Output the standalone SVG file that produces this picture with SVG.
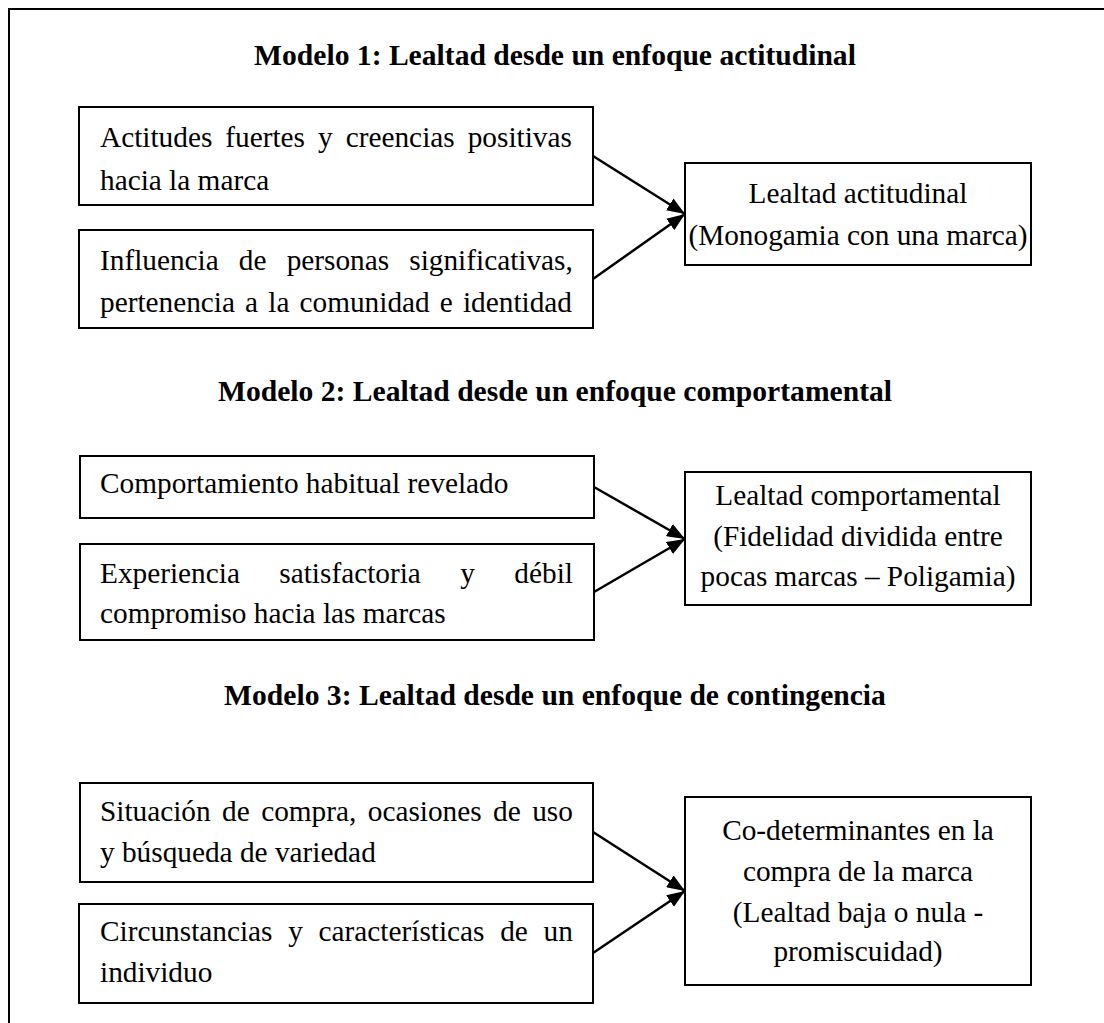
<svg xmlns="http://www.w3.org/2000/svg" width="1104" height="1023" viewBox="0 0 1104 1023">
<style>
.box{fill:#fff;stroke:#000;stroke-width:2}
.t{font-family:"Liberation Serif","Times New Roman",serif;font-size:29.3px;fill:#000}
.c{text-anchor:middle}
.h{font-family:"Liberation Serif","Times New Roman",serif;font-size:29.6px;font-weight:bold;text-anchor:middle;fill:#000}
.ln{stroke:#000;stroke-width:2.5;fill:none;marker-end:url(#ah)}
.frame{stroke:#000;stroke-width:2;fill:none}
</style>
<defs>
<marker id="ah" markerUnits="userSpaceOnUse" markerWidth="18" markerHeight="14" viewBox="0 0 18 14" refX="18" refY="7" orient="auto">
<path d="M0,0 L18,7 L0,14 z" fill="#000"/>
</marker>
</defs>
<rect width="1104" height="1023" fill="#fff"/>
<path class="frame" d="M9,1023 V9 H1104"/>

<text class="h" x="555" y="65">Modelo 1: Lealtad desde un enfoque actitudinal</text>
<text class="h" x="555" y="401">Modelo 2: Lealtad desde un enfoque comportamental</text>
<text class="h" x="555" y="705">Modelo 3: Lealtad desde un enfoque de contingencia</text>

<g id="connectors">
<line class="ln" x1="593" y1="156" x2="685" y2="214"/>
<line class="ln" x1="593" y1="279" x2="685" y2="214"/>
<line class="ln" x1="594" y1="487" x2="685" y2="539"/>
<line class="ln" x1="594" y1="592" x2="685" y2="539"/>
<line class="ln" x1="593" y1="832" x2="685" y2="891"/>
<line class="ln" x1="593" y1="953" x2="685" y2="891"/>
</g>

<g id="n1">
<rect class="box" x="79" y="107" width="514" height="98"/>
<text class="t" x="100" y="147" word-spacing="5.7">Actitudes fuertes y creencias positivas</text>
<text class="t" x="100" y="190">hacia la marca</text>
</g>
<g id="n2">
<rect class="box" x="79" y="230" width="514" height="98"/>
<text class="t" x="100" y="270" word-spacing="12.8">Influencia de personas significativas,</text>
<text class="t" x="100" y="312" word-spacing="2.8">pertenencia a la comunidad e identidad</text>
</g>
<g id="n3">
<rect class="box" x="685" y="163" width="346" height="102"/>
<text class="t c" x="858" y="203">Lealtad actitudinal</text>
<text class="t c" x="858" y="245">(Monogamia con una marca)</text>
</g>

<g id="n4">
<rect class="box" x="80" y="456" width="514" height="62"/>
<text class="t" x="100" y="493">Comportamiento habitual revelado</text>
</g>
<g id="n5">
<rect class="box" x="80" y="544" width="514" height="96"/>
<text class="t" x="100" y="583" word-spacing="32.1">Experiencia satisfactoria y débil</text>
<text class="t" x="100" y="623">compromiso hacia las marcas</text>
</g>
<g id="n6">
<rect class="box" x="685" y="472" width="346" height="133"/>
<text class="t c" x="858" y="505">Lealtad comportamental</text>
<text class="t c" x="858" y="546">(Fidelidad dividida entre</text>
<text class="t c" x="858" y="586">pocas marcas – Poligamia)</text>
</g>

<g id="n7">
<rect class="box" x="80" y="783" width="513" height="99"/>
<text class="t" x="100" y="821" word-spacing="4.1">Situación de compra, ocasiones de uso</text>
<text class="t" x="100" y="862">y búsqueda de variedad</text>
</g>
<g id="n8">
<rect class="box" x="79" y="904" width="514" height="99"/>
<text class="t" x="100" y="941" word-spacing="8.4">Circunstancias y características de un</text>
<text class="t" x="100" y="982">individuo</text>
</g>
<g id="n9">
<rect class="box" x="685" y="797" width="346" height="188"/>
<text class="t c" x="858" y="840">Co-determinantes en la</text>
<text class="t c" x="858" y="881">compra de la marca</text>
<text class="t c" x="858" y="922">(Lealtad baja o nula -</text>
<text class="t c" x="858" y="961">promiscuidad)</text>
</g>
</svg>
